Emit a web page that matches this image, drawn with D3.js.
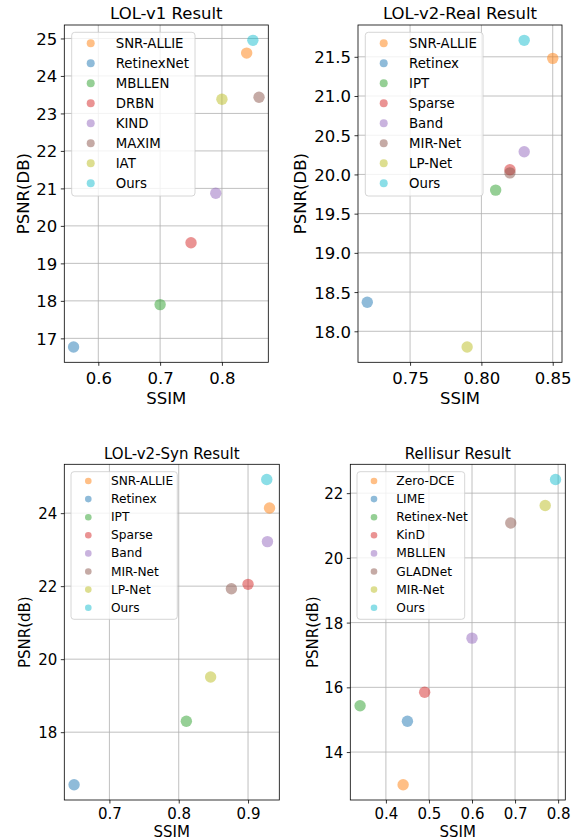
<!DOCTYPE html>
<html><head><meta charset="utf-8">
<script src="https://cdn.jsdelivr.net/npm/d3@7"></script>
<style>body{margin:0;background:#fff}svg{display:block}text{font-family:"DejaVu Sans",sans-serif;fill:#000}</style>
</head><body><svg id="c" width="576" height="839"></svg>
<script>
// ---- data ----
const colors = ["#ff7f0e","#1f77b4","#2ca02c","#d62728","#9467bd","#8c564b","#bcbd22","#17becf"];

const v1Methods = ["SNR-ALLIE","RetinexNet","MBLLEN","DRBN","KIND","MAXIM","IAT","Ours"];
const v1SSIM = [0.84,0.56,0.70,0.75,0.79,0.86,0.80,0.85];
const v1PSNR = [24.61,16.77,17.90,19.55,20.87,23.43,23.38,24.95];
const v1XTicks = [0.6,0.7,0.8];
const v1YTicks = [17,18,19,20,21,22,23,24,25];

const realMethods = ["SNR-ALLIE","Retinex","IPT","Sparse","Band","MIR-Net","LP-Net","Ours"];
const realSSIM = [0.85,0.72,0.81,0.82,0.83,0.82,0.79,0.83];
const realPSNR = [21.48,18.37,19.80,20.06,20.29,20.02,17.80,21.71];
const realXTicks = [0.75,0.80,0.85];
const realYTicks = [18.0,18.5,19.0,19.5,20.0,20.5,21.0,21.5];

const synMethods = ["SNR-ALLIE","Retinex","IPT","Sparse","Band","MIR-Net","LP-Net","Ours"];
const synSSIM = [0.931,0.649,0.811,0.900,0.928,0.876,0.846,0.927];
const synPSNR = [24.14,16.56,18.30,22.05,23.22,21.93,19.51,24.92];
const synXTicks = [0.7,0.8,0.9];
const synYTicks = [18,20,22,24];

const relMethods = ["Zero-DCE","LIME","Retinex-Net","KinD","MBLLEN","GLADNet","MIR-Net","Ours"];
const relSSIM = [0.44,0.45,0.34,0.49,0.60,0.69,0.77,0.794];
const relPSNR = [12.99,14.95,15.43,15.85,17.52,21.08,21.62,22.42];
const relXTicks = [0.4,0.5,0.6,0.7,0.8];
const relYTicks = [14,16,18,20,22];

// ---- layout ----
const panels = [
  {title:"LOL-v1 Result", yLabel:"PSNR(DB)", names:v1Methods, xs:v1SSIM, ys:v1PSNR, xt:v1XTicks, yt:v1YTicks, xf:d3.format(".1f"), yf:d3.format("d"),
   box:[64.3,25,268.3,362.3], fs:16.5, lfs:13.3, lg:{x:71.7,y:32.3,w:123.3,rowH:20,first:11,mx:19,tx:44,h:163.7,r:4}, titleY:19, ylabX:23, tickLabY:384, xlabY:404},
  {title:"LOL-v2-Real Result", yLabel:"PSNR(DB)", names:realMethods, xs:realSSIM, ys:realPSNR, xt:realXTicks, yt:realYTicks, xf:d3.format(".2f"), yf:d3.format(".1f"),
   box:[358,25,562,362.3], fs:16.5, lfs:13.3, lg:{x:365.3,y:32.3,w:117.7,rowH:20,first:11,mx:18.4,tx:43.7,h:163.7,r:4}, titleY:19, ylabX:300, tickLabY:384, xlabY:404},
  {title:"LOL-v2-Syn Result", yLabel:"PSNR(dB)", names:synMethods, xs:synSSIM, ys:synPSNR, xt:synXTicks, yt:synYTicks, xf:d3.format(".1f"), yf:d3.format("d"),
   box:[64.3,464.3,279.3,800], fs:15, lfs:12.2, lg:{x:71,y:471.7,w:106.3,rowH:18.1,first:9.3,mx:17.3,tx:40,h:147.6,r:3.3}, titleY:459, ylabX:25, tickLabY:819, xlabY:836.5},
  {title:"Rellisur Result", yLabel:"PSNR(dB)", names:relMethods, xs:relSSIM, ys:relPSNR, xt:relXTicks, yt:relYTicks, xf:d3.format(".1f"), yf:d3.format("d"),
   box:[350.3,464.3,565.3,800], fs:15, lfs:12.2, lg:{x:357,y:471.7,w:107.7,rowH:18.1,first:9.3,mx:17,tx:39.3,h:147.6,r:3.3}, titleY:459, ylabX:313, tickLabY:819, xlabY:836.5}
];

const svg = d3.select("#c");

function padExtent(arr){
  const [a,b] = d3.extent(arr); const m = (b-a)*0.05; return [a-m,b+m];
}

panels.forEach(p=>{
  const [L,T,R,B] = p.box;
  const x = d3.scaleLinear().domain(padExtent(p.xs)).range([L,R]);
  const y = d3.scaleLinear().domain(padExtent(p.ys)).range([B,T]);
  const g = svg.append("g");
  // grid
  g.selectAll(".gx").data(p.xt).join("line").attr("x1",d=>x(d)).attr("x2",d=>x(d)).attr("y1",T).attr("y2",B)
    .attr("stroke","#b0b0b0").attr("stroke-width",0.8);
  g.selectAll(".gy").data(p.yt).join("line").attr("y1",d=>y(d)).attr("y2",d=>y(d)).attr("x1",L).attr("x2",R)
    .attr("stroke","#b0b0b0").attr("stroke-width",0.8);
  // axes
  const xa = g.append("g").attr("transform",`translate(0,${B})`)
    .call(d3.axisBottom(x).tickValues(p.xt).tickFormat(p.xf).tickSize(3.5).tickPadding(3.5));
  const ya = g.append("g").attr("transform",`translate(${L},0)`)
    .call(d3.axisLeft(y).tickValues(p.yt).tickFormat(p.yf).tickSize(3.5).tickPadding(3.5));
  [xa,ya].forEach(a=>{
    a.select(".domain").remove();
    a.selectAll("line").attr("stroke","#000").attr("stroke-width",0.8);
    a.selectAll("text").attr("font-size",p.fs).attr("font-family","DejaVu Sans").attr("fill","#000");
  });
  xa.selectAll("text").attr("dy",null).attr("y",null).attr("transform",null)
    .attr("y",p.tickLabY-B);
  ya.selectAll("text").attr("dy","0.36em");
  // points
  g.selectAll(".pt").data(p.names).join("circle")
    .attr("cx",(d,i)=>x(p.xs[i])).attr("cy",(d,i)=>y(p.ys[i])).attr("r",5.7)
    .attr("fill",(d,i)=>colors[i]).attr("fill-opacity",0.5);
  // frame
  g.append("rect").attr("x",L).attr("y",T).attr("width",R-L).attr("height",B-T)
    .attr("fill","none").attr("stroke","#000").attr("stroke-width",0.8);
  // title & labels
  g.append("text").attr("x",(L+R)/2).attr("y",p.titleY).attr("text-anchor","middle").attr("font-size",p.fs).text(p.title);
  g.append("text").attr("x",(L+R)/2).attr("y",p.xlabY).attr("text-anchor","middle").attr("font-size",p.fs).text("SSIM");
  g.append("text").attr("transform",`translate(${p.ylabX},${(T+B)/2}) rotate(-90)`).attr("text-anchor","middle")
    .attr("dominant-baseline","central").attr("font-size",p.fs).text(p.yLabel);
  // legend
  const lg = p.lg;
  const leg = g.append("g");
  leg.append("rect").attr("x",lg.x).attr("y",lg.y).attr("width",lg.w).attr("height",lg.h).attr("rx",3)
    .attr("fill","#fff").attr("fill-opacity",0.8).attr("stroke","#cccccc").attr("stroke-width",0.8);
  p.names.forEach((n,i)=>{
    const cy = lg.y+lg.first+i*lg.rowH;
    leg.append("circle").attr("cx",lg.x+lg.mx).attr("cy",cy).attr("r",lg.r).attr("fill",colors[i]).attr("fill-opacity",0.5);
    leg.append("text").attr("x",lg.x+lg.tx).attr("y",cy).attr("dominant-baseline","central").attr("font-size",p.lfs).text(n);
  });
});
</script></body></html>
